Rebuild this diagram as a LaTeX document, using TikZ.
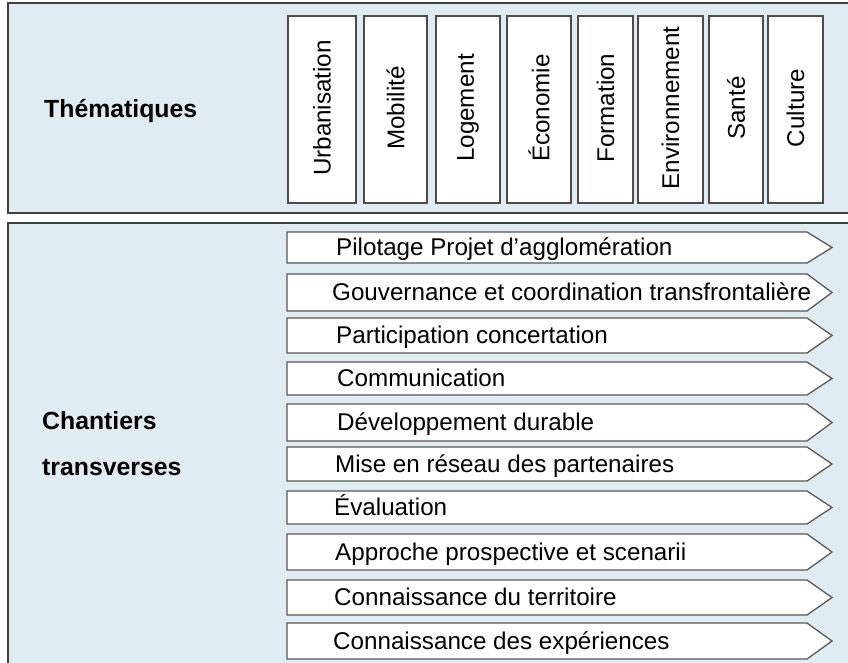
\documentclass[tikz,border=0pt]{standalone}
\usepackage{fontspec}
\setmainfont{Liberation Sans}
\begin{document}
\begin{tikzpicture}[x=1pt,y=-1pt,
  panel/.style={draw=black!75, line width=1.6pt, fill=panelblue},
  thembox/.style={draw=black!70, line width=1.3pt, fill=white},
  rowbody/.style={draw=black!65, line width=1.3pt, fill=white, line join=miter},
  rowtext/.style={anchor=base west, inner sep=0pt, font=\fontsize{24.2}{27}\selectfont},
  themtext/.style={rotate=90, inner sep=0pt, font=\fontsize{24.2}{27}\selectfont},
  headtext/.style={anchor=base west, inner sep=0pt, font=\fontsize{24.8}{28}\selectfont\bfseries},
]
\definecolor{panelblue}{HTML}{E0EBF2}
\useasboundingbox (0,0) rectangle (848,662);

% the two background panels
\path[panel] (8,3) rectangle (860,213);
\path[panel] (8,223) rectangle (860,680);

% left-hand headings
\node[headtext] (them) at (44,117) {Thématiques};
\node[headtext] (chant1) at (42,429) {Chantiers};
\node[headtext] (chant2) at (42,475) {transverses};

% thematic columns
\foreach \xa/\xb/\lab [count=\i] in {
  288/356/Urbanisation, 364/427/Mobilité, 436/500/Logement, 507/571/Économie,
  578/633/Formation, 638/703/Environnement, 709/763/Santé, 768/823/Culture}{
  \path[thembox] (\xa,16) rectangle (\xb,203);
  \node[themtext] (t\i) at ({(\xa+\xb)/2},108) {\lab};
}

% cross-cutting work streams, drawn as chevron bands
\foreach \ya/\yb/\tx/\lab [count=\i] in {
  232/263/336/{Pilotage Projet d’agglomération},
  274/311/332/{Gouvernance et coordination transfrontalière},
  318/353/336/{Participation concertation},
  362/395/337/{Communication},
  404/441/337/{Développement durable},
  447/481/335/{Mise en réseau des partenaires},
  491/524/334/{Évaluation},
  534/570/335/{Approche prospective et scenarii},
  580/615/334/{Connaissance du territoire},
  623/659/333/{Connaissance des expériences}}{
  \coordinate (r\i nw) at (287,\ya);
  \coordinate (r\i ne) at (807,\ya);
  \coordinate (r\i tip) at (832,{(\ya+\yb)/2});
  \coordinate (r\i se) at (807,\yb);
  \coordinate (r\i sw) at (287,\yb);
  \path[rowbody] (r\i nw) -- (r\i ne) -- (r\i tip) -- (r\i se) -- (r\i sw) -- cycle;
  \node[rowtext] (l\i) at (\tx,{(\ya+\yb)/2+8}) {\lab};
}
\end{tikzpicture}
\end{document}
